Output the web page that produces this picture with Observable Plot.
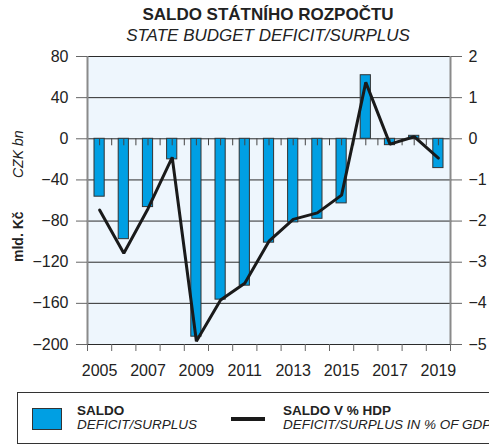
<!DOCTYPE html>
<html>
<head>
<meta charset="utf-8">
<script src="https://cdn.jsdelivr.net/npm/d3@7"></script>
<script src="https://cdn.jsdelivr.net/npm/@observablehq/plot@0.6"></script>
<style>
  html, body { margin: 0; padding: 0; background: #fff; }
  #wrap { position: relative; width: 489px; height: 446px; overflow: hidden; font-family: "Liberation Sans", Arial, sans-serif; color: #222; }
  .abs { position: absolute; white-space: nowrap; }
</style>
</head>
<body>
<div id="wrap"></div>
<script>
// ---- data ----
const years = [2005, 2006, 2007, 2008, 2009, 2010, 2011, 2012, 2013, 2014, 2015, 2016, 2017, 2018, 2019];
const saldo = [-56.3, -97.6, -66.4, -20.0, -192.4, -156.4, -142.8, -101.0, -81.3, -77.8, -62.8, 61.8, -6.2, 2.9, -28.5];
const saldoPctGdp = [-1.73, -2.78, -1.70, -0.45, -4.92, -3.92, -3.51, -2.49, -1.96, -1.80, -1.37, 1.37, -0.13, 0.05, -0.47];
const leftTicks = [80, 40, 0, -40, -80, -120, -160, -200];
const rightTicks = [2, 1, 0, -1, -2, -3, -4, -5];
const xLabels = [2005, 2007, 2009, 2011, 2013, 2015, 2017, 2019];
const titleCz = "SALDO STÁTNÍHO ROZPOČTU";
const titleEn = "STATE BUDGET DEFICIT/SURPLUS";
const yLabelCz = "mld. Kč";
const yLabelEn = "CZK bn";
const legendBarCz = "SALDO";
const legendBarEn = "DEFICIT/SURPLUS";
const legendLineCz = "SALDO V % HDP";
const legendLineEn = "DEFICIT/SURPLUS IN % OF GDP";

// ratio between the two y axes (right axis unit -> left axis units)
const axisRatio = leftTicks[0] / rightTicks[0];

const rows = years.map((year, i) => ({year, saldo: saldo[i], pct: saldoPctGdp[i]}));
const boundaries = d3.range(years.length + 1).map(i => years[0] - 0.5 + i);
const zeroTicks = d3.range(2 * years.length + 1).map(i => years[0] - 0.5 + i / 2);

const fmt = v => (v < 0 ? "\u2212" + Math.abs(v) : String(v));
const barBlue = "#009fe3";
const gridColor = "#2a2a2a";
const axisGray = "#666";

const chart = Plot.plot({
  width: 489,
  height: 392,
  marginTop: 56,
  marginBottom: 48,
  marginLeft: 87,
  marginRight: 39,
  style: {fontFamily: "Liberation Sans, Arial, sans-serif", fontSize: "16px", color: "#222", background: "transparent", overflow: "visible"},
  x: {domain: [years[0] - 0.5, years[years.length - 1] + 0.5]},
  y: {domain: [leftTicks[leftTicks.length - 1], leftTicks[0]]},
  marks: [
    Plot.frame({fill: "#eef6fd", stroke: null}),
    Plot.ruleY(leftTicks, {stroke: gridColor, strokeWidth: 1}),
    Plot.rectY(rows, {x1: d => d.year - 0.5, x2: d => d.year + 0.5, y: "saldo", insetLeft: 7, insetRight: 7, fill: barBlue, stroke: "#333", strokeWidth: 1}),
    Plot.ruleX(zeroTicks, {x: d => d, y1: 0, y2: 0, insetBottom: -7, stroke: "#444", strokeWidth: 1}),
    Plot.ruleX([boundaries[0], boundaries[boundaries.length - 1]], {stroke: "#8a8a8a", strokeWidth: 2}),
    Plot.line(rows, {x: "year", y: d => d.pct * axisRatio, stroke: "#1a1a1a", strokeWidth: 3, strokeLinejoin: "miter"}),
    Plot.axisY({anchor: "left", ticks: leftTicks, tickSize: 11, tickPadding: 8, tickFormat: fmt, label: null, stroke: axisGray, fontSize: 16}),
    Plot.axisY({anchor: "right", ticks: leftTicks, tickSize: 11, tickPadding: 7, tickFormat: d => fmt(rightTicks[leftTicks.indexOf(d)]), label: null, stroke: axisGray, fontSize: 16}),
    Plot.axisX({ticks: boundaries, tickSize: 7, tickFormat: () => "", label: null, stroke: axisGray}),
    Plot.axisX({ticks: xLabels, tickSize: 0, tickPadding: 20, tickFormat: d => String(d), label: null, fontSize: 16})
  ]
});

const wrap = document.getElementById("wrap");
chart.style.position = "absolute";
chart.style.left = "0px";
chart.style.top = "0px";
wrap.appendChild(chart);

function addDiv(text, css) {
  const d = document.createElement("div");
  d.className = "abs";
  d.textContent = text;
  Object.assign(d.style, css);
  wrap.appendChild(d);
  return d;
}

// titles
addDiv(titleCz, {left: "0px", width: "536px", textAlign: "center", top: "5.5px", fontSize: "17px", lineHeight: "17px", fontWeight: "bold"});
addDiv(titleEn, {left: "0px", width: "536px", textAlign: "center", top: "26.5px", fontSize: "17px", lineHeight: "17px", fontStyle: "italic"});

// rotated y labels
addDiv(yLabelCz, {left: "11px", top: "262px", fontSize: "14px", lineHeight: "14px", fontWeight: "bold", transform: "rotate(-90deg)", transformOrigin: "0 0"});
addDiv(yLabelEn, {left: "11px", top: "178px", fontSize: "14px", lineHeight: "14px", fontStyle: "italic", transform: "rotate(-90deg)", transformOrigin: "0 0"});

// legend
const box = document.createElement("div");
box.className = "abs";
Object.assign(box.style, {left: "17px", top: "392px", width: "520px", height: "52px", border: "1px solid #333", boxSizing: "border-box"});
wrap.appendChild(box);
const sw = document.createElement("div");
sw.className = "abs";
Object.assign(sw.style, {left: "32px", top: "408px", width: "30px", height: "22px", background: barBlue, border: "1px solid #333", boxSizing: "border-box"});
wrap.appendChild(sw);
addDiv(legendBarCz, {left: "77px", top: "405px", fontSize: "13.5px", lineHeight: "12px", fontWeight: "bold"});
addDiv(legendBarEn, {left: "77px", top: "419px", fontSize: "13.5px", lineHeight: "12px", fontStyle: "italic"});
const ln = document.createElement("div");
ln.className = "abs";
Object.assign(ln.style, {left: "231px", top: "417px", width: "34px", height: "3.5px", background: "#1a1a1a"});
wrap.appendChild(ln);
addDiv(legendLineCz, {left: "283px", top: "405px", fontSize: "13.5px", lineHeight: "12px", fontWeight: "bold"});
addDiv(legendLineEn, {left: "283px", top: "419px", fontSize: "13.5px", lineHeight: "12px", fontStyle: "italic"});
</script>
</body>
</html>
